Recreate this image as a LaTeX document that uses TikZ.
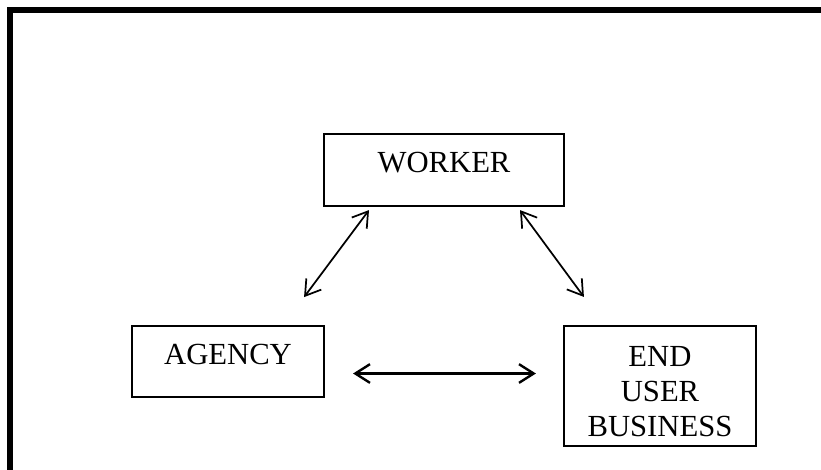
\documentclass[tikz,border=0pt]{standalone}
\usepackage{fontspec}
\setmainfont{Liberation Serif}
\usetikzlibrary{arrows.meta,calc}
\begin{document}
\begin{tikzpicture}[x=0.75pt, y=-0.75pt, font=\fontsize{23pt}{26.25pt}\selectfont,
  box/.style={draw, line width=1.6pt, inner sep=0pt},
  arr/.style={{Straight Barb[length=11pt,width=14pt]}-{Straight Barb[length=11pt,width=14pt]}, line width=1.3pt}]
\clip (0,0) rectangle (821,469);
\draw [line width=4.5pt] (9.5,10) rectangle (900,560);
\node[box, minimum width=180pt, text height=29pt, text depth=25pt] (worker) at (444,170) {WORKER};
\node[box, minimum width=144pt, text height=29pt, text depth=24pt] (agency) at (228,361.5) {AGENCY};
\node[box, minimum width=144pt, text height=82.5pt, text depth=7.5pt, align=center] (enduser) at (660,386) {END\\USER\\BUSINESS};
\draw [arr] ($(worker.south)+(-75,3)$) -- ($(agency.north east)+(-21,-28)$);
\draw [arr] ($(worker.south)+(76,3)$) -- ($(enduser.north west)+(21,-28)$);
\draw [arr, line width=1.8pt] ($(agency.east)+(28,12)$) -- ($(enduser.west)+(-27,-12.5)$);
\end{tikzpicture}
\end{document}
